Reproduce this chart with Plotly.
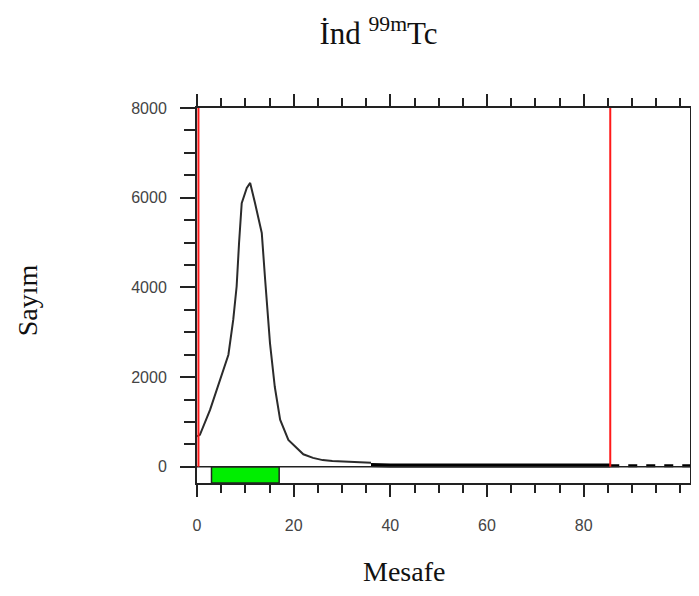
import plotly.graph_objects as go

# radio-TLC scan: distance (mm) vs counts
dist = [0, 0.6, 2.7, 4.8, 6.5, 7.5, 8.2, 8.7, 9.25, 10.3, 11, 12, 13.4, 14.1,
        15.1, 16.1, 17.2, 18.9, 20.3, 22, 24, 26, 28, 32, 36]
counts = [680, 713, 1270, 1940, 2500, 3280, 4020, 4990, 5880, 6220, 6330, 5880,
          5215, 4170, 2760, 1780, 1050, 600, 446, 280, 200, 150, 130, 110, 90]

tail_dist = [36, 40, 50, 60, 70, 80, 85.5]
tail_counts = [40, 30, 30, 30, 30, 30, 30]

after_dist = [85.5, 90, 95, 100, 102]
after_counts = [25, 25, 25, 25, 25]

region_lines = [0.3, 85.5]    # red origin / front markers
green_band = [3, 17]          # green spot region
y_top = 8000
y_strip = -360

fig = go.Figure()

fig.add_trace(go.Scatter(x=dist, y=counts, mode="lines",
                         line=dict(color="#2b2b2b", width=2),
                         showlegend=False))
fig.add_trace(go.Scatter(x=tail_dist, y=tail_counts, mode="lines",
                         line=dict(color="#000000", width=4), showlegend=False))
fig.add_trace(go.Scatter(x=after_dist, y=after_counts, mode="lines",
                         line=dict(color="#000000", width=3, dash="dash"),
                         showlegend=False))

shapes = [
    dict(type="rect", xref="x", yref="y", x0=green_band[0], x1=green_band[1],
         y0=y_strip, y1=0, fillcolor="#00ee00",
         line=dict(color="#222222", width=1.5), layer="above"),
    dict(type="line", xref="paper", yref="y", x0=0, x1=1, y0=0, y1=0,
         line=dict(color="#222222", width=1.5)),
]
for xv in region_lines:
    shapes.append(dict(type="line", xref="x", yref="y", x0=xv, x1=xv,
                       y0=0, y1=y_top, line=dict(color="#ff1a1a", width=2)))

# page body adds ~8px offset, margins compensate
fig.update_layout(
    width=699, height=596,
    plot_bgcolor="white", paper_bgcolor="white",
    margin=dict(l=189, r=17, t=100, b=121, pad=0),
    shapes=shapes,
    title=dict(text="İnd <sup>99m</sup>Tc", x=0.53, xanchor="center",
               y=0.958, yanchor="middle",
               font=dict(family="Liberation Serif", size=31, color="#111111")),
    font=dict(family="Liberation Sans", size=16, color="#444444"),
    annotations=[
        dict(text="Mesafe", xref="paper", yref="paper", x=0.42, y=-0.235,
             showarrow=False, xanchor="center", yanchor="middle",
             font=dict(family="Liberation Serif", size=28, color="#111111")),
        dict(text="Sayım", xref="paper", yref="paper", x=-0.345, y=0.487,
             textangle=-90, showarrow=False, xanchor="center", yanchor="middle",
             font=dict(family="Liberation Serif", size=28, color="#111111")),
    ],
)

fig.update_xaxes(
    range=[0, 102], tickvals=[0, 20, 40, 60, 80], showgrid=False, zeroline=False,
    automargin=False, ticklabelstandoff=15,
    showline=True, linecolor="#222222", linewidth=2, mirror="ticks",
    ticks="outside", ticklen=12, tickwidth=2, tickcolor="#222222",
    minor=dict(dtick=5, ticks="outside", ticklen=8, tickwidth=2,
               tickcolor="#222222", showgrid=False),
)
fig.update_yaxes(
    range=[y_strip, y_top], tickvals=[0, 2000, 4000, 6000, 8000],
    showgrid=False, zeroline=False,
    automargin=False, ticklabelstandoff=10,
    showline=True, linecolor="#222222", linewidth=2, mirror="ticks",
    ticks="outside", ticklen=15, tickwidth=2, tickcolor="#222222",
    minor=dict(tickvals=list(range(500, 8000, 500)), ticks="outside",
               ticklen=11, tickwidth=2, tickcolor="#222222", showgrid=False),
)

fig.write_html("out.html")
